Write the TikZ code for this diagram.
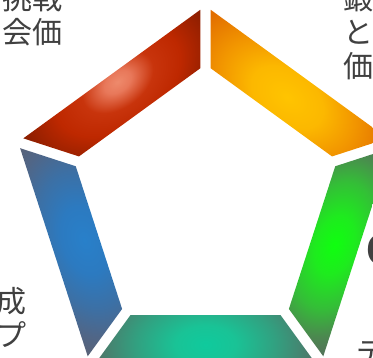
\documentclass[tikz,border=0pt]{standalone}
\usepackage{fontspec}
\newfontfamily\cjk{Noto Sans CJK JP}
\newfontfamily\latsans{Liberation Sans}
\usetikzlibrary{calc}
\definecolor{txtgray}{RGB}{64,64,64}
% red segment
\definecolor{rA}{RGB}{238,138,108}\definecolor{rB}{RGB}{232,120,90}\definecolor{rC}{RGB}{200,52,12}
\definecolor{rD}{RGB}{190,40,0}\definecolor{rE}{RGB}{150,32,0}\definecolor{rF}{RGB}{118,26,0}
\pgfdeclareradialshading{redsh}{\pgfpoint{0bp}{0bp}}{color(0bp)=(rA); color(3bp)=(rB); color(8bp)=(rC); color(14bp)=(rD); color(20bp)=(rE); color(25bp)=(rF); color(50bp)=(rF)}
% orange
\definecolor{oA}{RGB}{255,196,0}\definecolor{oB}{RGB}{252,184,0}\definecolor{oC}{RGB}{242,150,0}\definecolor{oD}{RGB}{226,110,0}
\pgfdeclareradialshading{orsh}{\pgfpoint{0bp}{0bp}}{color(0bp)=(oA); color(8bp)=(oB); color(15bp)=(oC); color(23bp)=(oD); color(50bp)=(oD)}
% green
\definecolor{gA}{RGB}{15,255,15}\definecolor{gB}{RGB}{30,235,30}\definecolor{gC}{RGB}{52,190,55}\definecolor{gD}{RGB}{76,135,80}\definecolor{gE}{RGB}{85,112,90}
\pgfdeclareradialshading{grsh}{\pgfpoint{0bp}{0bp}}{color(0bp)=(gA); color(6bp)=(gB); color(13bp)=(gC); color(19bp)=(gD); color(23bp)=(gE); color(50bp)=(gE)}
% teal
\definecolor{tA}{RGB}{15,202,157}\definecolor{tB}{RGB}{25,195,150}\definecolor{tC}{RGB}{50,160,128}\definecolor{tD}{RGB}{72,128,110}\definecolor{tE}{RGB}{85,110,100}
\pgfdeclareradialshading{tesh}{\pgfpoint{0bp}{0bp}}{color(0bp)=(tA); color(6bp)=(tB); color(14bp)=(tC); color(20bp)=(tD); color(24bp)=(tE); color(50bp)=(tE)}
% blue
\definecolor{bA}{RGB}{40,128,202}\definecolor{bB}{RGB}{44,122,192}\definecolor{bC}{RGB}{60,112,165}\definecolor{bD}{RGB}{80,102,135}\definecolor{bE}{RGB}{88,98,120}
\pgfdeclareradialshading{blsh}{\pgfpoint{0bp}{0bp}}{color(0bp)=(bA); color(7bp)=(bB); color(14bp)=(bC); color(20bp)=(bD); color(24bp)=(bE); color(50bp)=(bE)}
% one ring segment: #1 first vertex, #2 next vertex, #3 shading, #4/#5 shading centre offset
\newcommand\pentaseg[5]{%
  \begin{scope}
    \clip ($(O#1)!6.4pt!(O#2)$) -- ($(O#2)!6.4pt!(O#1)$) -- ($(I#2)!6.4pt!(I#1)$) -- ($(I#1)!6.4pt!(I#2)$) -- cycle;
    \begin{scope}[transform canvas={shift={($(C)+({54-72*#1}:135.7)$)}, rotate={-36-72*#1}}]
      \shade[shading=#3] ({#4-125},{#5-80}) rectangle ({#4+125},{#5+80});
    \end{scope}
  \end{scope}}
\tikzset{lbl/.style={font=\cjk\fontsize{30}{34}\selectfont, text=txtgray, inner sep=0pt}}
\begin{document}
\begin{tikzpicture}[x=1pt,y=1pt]
\useasboundingbox (0,0) rectangle (373,358);
\coordinate (C) at (205.5,155);
\foreach \k in {0,...,5} {
  \coordinate (O\k) at ($(C)+({90-72*\k}:197)$);
  \coordinate (I\k) at ($(C)+({90-72*\k}:138.5)$);
}
\pentaseg{0}{1}{orsh}{4}{-2}
\pentaseg{1}{2}{grsh}{0}{0}
\pentaseg{2}{3}{tesh}{0}{6}
\pentaseg{3}{4}{blsh}{2}{-9}
\pentaseg{4}{5}{redsh}{0}{14}
% texts
\node[lbl, anchor=base east] (tl1) at (63,348.5) {挑戦};
\node[lbl, anchor=base east] (tl2) at (63,314.5) {会価};
\node[lbl, anchor=base west] (tr1) at (343.5,348.5) {鍛};
\node[lbl, anchor=base west] (tr2) at (343.5,314.5) {と};
\node[lbl, anchor=base west] (tr3) at (343.5,280.5) {価};
\node[lbl, anchor=base east] (bl1) at (26.5,45) {成};
\node[lbl, anchor=base east] (bl2) at (26.5,11) {プ};
\node[lbl, anchor=base west] (br1) at (356,-6) {デ};
\node[font=\latsans\bfseries\fontsize{45}{45}\selectfont, text=txtgray, inner sep=0pt, anchor=base west] (rc) at (366,92.5) {C};
\end{tikzpicture}
\end{document}
